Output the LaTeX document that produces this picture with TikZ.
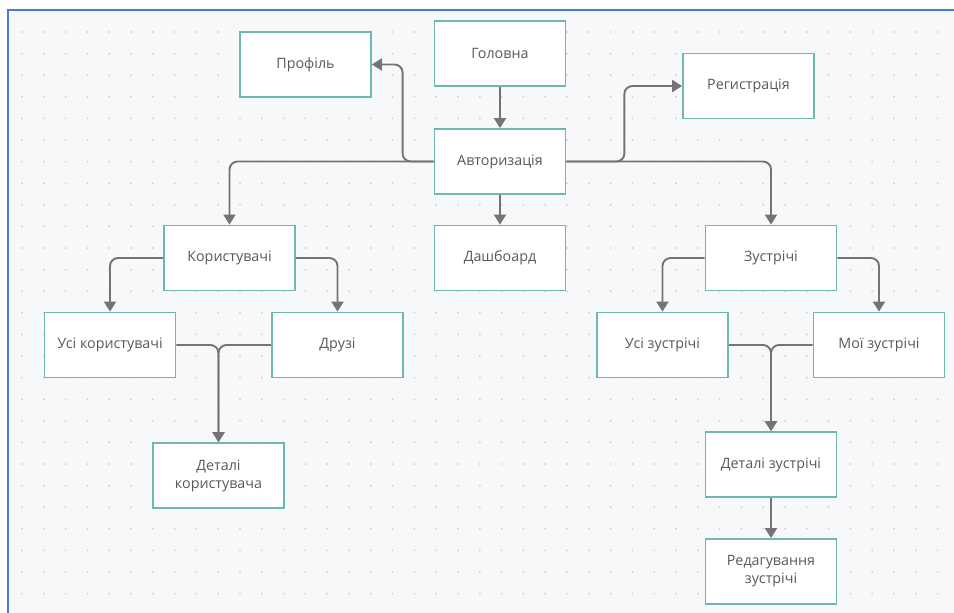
\documentclass[tikz,border=0pt]{standalone}
\usepackage{fontspec}
\setmainfont{Open Sans}
\usetikzlibrary{arrows.meta}
\definecolor{canvas}{HTML}{F7F8FA}
\definecolor{frameblue}{HTML}{4A7BD6}
\definecolor{gridgray}{HTML}{D2D4D8}
\definecolor{boxteal}{HTML}{6DB9B2}
\definecolor{linkgray}{HTML}{747474}
\definecolor{labelgray}{HTML}{595959}
\tikzset{
  pagebox/.style={draw=boxteal, line width=1.8pt, fill=white, rectangle,
    minimum width=131pt, minimum height=65pt, align=center,
    text=labelgray, font=\fontsize{14.3}{18}\selectfont},
  link/.style={draw=linkgray, line width=1.9pt, rounded corners=8pt,
    -{Triangle[width=12pt,length=10pt]}},
}
\begin{document}
\begin{tikzpicture}[x=1pt,y=-1pt]
  \useasboundingbox (0,0) rectangle (954,613);
  % canvas with dotted grid
  \fill[white] (0,0) rectangle (954,613);
  \fill[canvas] (8,10) rectangle (954,613);
  \foreach \gx in {0,...,42} {
    \foreach \gy in {0,...,26} {
      \fill[gridgray] (22+21.8*\gx, 32+21.6*\gy) circle (1.1pt);
    }
  }
  \draw[frameblue, line width=1.6pt] (8,613) -- (8,10) -- (954,10);

  % pages
  \node[pagebox] (prof)     at (305.5,64.5) {Профіль};
  \node[pagebox] (home)     at (500,53.5)   {Головна};
  \node[pagebox] (reg)      at (748.5,86)   {Регистрація};
  \node[pagebox] (auth)     at (500,161.5)  {Авторизація};
  \node[pagebox] (users)    at (229.5,258)  {Користувачі};
  \node[pagebox] (dash)     at (500,258)    {Дашбоард};
  \node[pagebox] (meet)     at (771,258)    {Зустрічі};
  \node[pagebox] (allusers) at (110,345)    {Усі користувачі};
  \node[pagebox] (friends)  at (337.5,345)  {Друзі};
  \node[pagebox] (udet)     at (218.5,475.5){Деталі\\користувача};
  \node[pagebox] (allmeet)  at (662.5,345)  {Усі зустрічі};
  \node[pagebox] (mymeet)   at (879,345)    {Мої зустрічі};
  \node[pagebox] (mdet)     at (771,464.5)  {Деталі зустрічі};
  \node[pagebox] (medit)    at (771,571.5)  {Редагування\\зустрічі};

  % navigation links
  \draw[link] (home) -- (auth);
  \draw[link] (auth) -- (dash);
  \draw[link] (auth.west) -- ++(-31,0) |- (prof.east);
  \draw[link] (auth.west) -| (users.north);
  \draw[link] (auth.east) -- ++(58,0) |- (reg.west);
  \draw[link] (auth.east) -| (meet.north);
  \draw[link] (users.west) -| (allusers.north);
  \draw[link] (users.east) -| (friends.north);
  \draw[link] (meet.west) -| (allmeet.north);
  \draw[link] (meet.east) -| (mymeet.north);
  \draw[link] (allusers.east) -| (udet.north);
  \draw[link] (friends.west) -| (udet.north);
  \draw[link] (allmeet.east) -| (mdet.north);
  \draw[link] (mymeet.west) -| (mdet.north);
  \draw[link] (mdet) -- (medit);
\end{tikzpicture}
\end{document}
